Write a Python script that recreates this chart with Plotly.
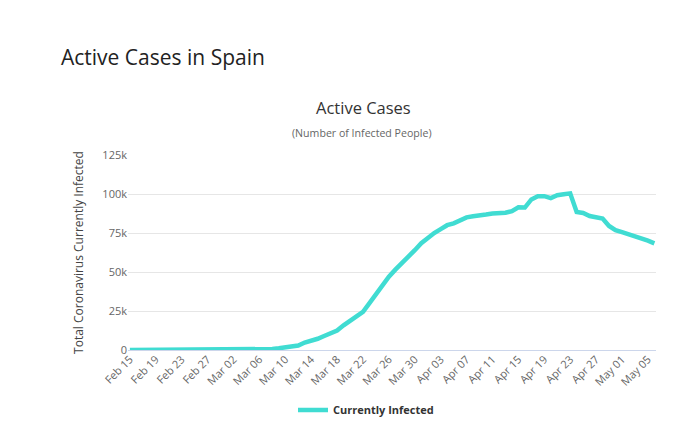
import plotly.graph_objects as go
import pandas as pd

dates = pd.date_range("2020-02-15", "2020-05-06", freq="D")
active = [
    2, 2, 2, 2, 2, 2, 2, 2, 2, 2,
    4, 11, 13, 30, 43,
    82, 118, 163, 220, 267, 362, 483, 640, 1100, 1600,
    2100, 2900, 4800, 5800, 7200, 9000, 10500, 12500, 15800, 18700,
    21800, 24500, 30000, 36000, 41000, 47000, 51500, 55500, 59000, 64000,
    68500, 72000, 75000, 77500, 80000, 81200, 83000, 85000, 85700, 86000,
    86800, 87500, 87500, 88000, 89000, 91500, 91300, 96500, 98500, 98600,
    97400, 99200, 99800, 100400, 88500, 87800, 85900, 85000, 84300, 79500,
    76800, 75500, 74200, 73100, 71200, 70100, 68400,
]
tick_dates = pd.date_range("2020-02-15", "2020-05-05", freq="4D")
tick_labels = [d.strftime("%b %d") for d in tick_dates]
y_ticks = [0, 25000, 50000, 75000, 100000, 125000]
y_labels = ["0", "25k", "50k", "75k", "100k", "125k"]

fig = go.Figure()
fig.add_trace(go.Scatter(
    x=dates, y=active, mode="lines", name="Currently Infected",
    line=dict(color="#40DCD2", width=4.5),
))

OFF = 8  # page body margin
W, H = 690 - OFF, 445 - OFF
L, R, T, B = 128 - OFF, 34, 155 - OFF, 95
pw, ph = W - L - R, H - T - B

def px(x):
    return (x - OFF - L) / pw

def py(y):
    return (H - B - (y - OFF)) / ph

font = "Open Sans, Noto Sans, sans-serif"
fig.update_layout(
    width=W, height=H,
    margin=dict(l=L, r=R, t=T, b=B),
    paper_bgcolor="white", plot_bgcolor="white",
    font=dict(family=font, color="#666666", size=11),
    showlegend=True,
    legend=dict(orientation="h", x=px(366), xanchor="center", y=py(410), yanchor="middle",
                font=dict(size=11, color="#333333", family=font, weight="bold")),
    xaxis=dict(
        type="date",
        range=[pd.Timestamp("2020-02-14 17:00"), pd.Timestamp("2020-05-06 06:00")],
        tickvals=tick_dates, ticktext=tick_labels, tickangle=-45,
        showgrid=False, showline=False, zeroline=False,
        ticks="", tickfont=dict(size=11, color="#666666"),
    ),
    yaxis=dict(
        range=[0, 125000], tickvals=y_ticks, ticktext=y_labels,
        showgrid=True, gridcolor="#e6e6e6", gridwidth=1,
        zeroline=True, zerolinecolor="#ccd6eb", zerolinewidth=1,
        showline=False, ticks="", tickfont=dict(size=11, color="#666666"),
        title=dict(text="Total Coronavirus Currently Infected",
                   font=dict(size=12, color="#444444"), standoff=16),
    ),
)
fig.add_annotation(text="Active Cases in Spain", xref="paper", yref="paper",
                   x=px(59), y=py(57), xanchor="left", yanchor="middle",
                   showarrow=False, font=dict(size=21, color="#222222", family=font))
fig.add_annotation(text="Active Cases", xref="paper", yref="paper",
                   x=px(363), y=py(107), xanchor="center", yanchor="middle",
                   showarrow=False, font=dict(size=16.5, color="#333333", family=font))
fig.add_annotation(text="(Number of Infected People)", xref="paper", yref="paper",
                   x=px(362), y=py(133), xanchor="center", yanchor="middle",
                   showarrow=False, font=dict(size=10.6, color="#666666", family=font))

fig.write_html("out.html")
